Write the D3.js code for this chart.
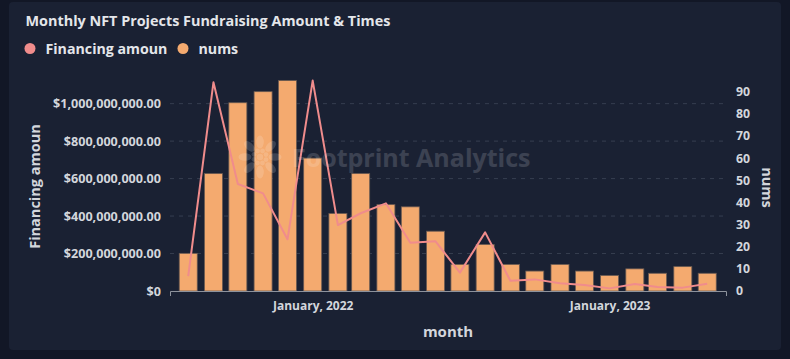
<!DOCTYPE html>
<html>
<head>
<meta charset="utf-8">
<script src="https://cdn.jsdelivr.net/npm/d3@7"></script>
<style>
  html, body { margin: 0; padding: 0; background: #121726; }
  svg { display: block; }
  text { font-family: "Open Sans", "Noto Sans", sans-serif; font-weight: 700; }
</style>
</head>
<body>
<svg id="chart" width="790" height="359"></svg>
<script>
// ---- data ----
const months = ["2021-08","2021-09","2021-10","2021-11","2021-12","2022-01","2022-02","2022-03",
  "2022-04","2022-05","2022-06","2022-07","2022-08","2022-09","2022-10","2022-11","2022-12",
  "2023-01","2023-02","2023-03","2023-04","2023-05"];
const nums = [17,53,85,90,95,60,35,53,39,38,27,12,21,12,9,12,9,7,10,8,11,8];
const financingAmount = [80e6,1114e6,571e6,521e6,276e6,1123e6,352e6,415e6,468e6,258e6,265e6,
  98e6,313e6,55e6,62e6,41e6,32e6,14e6,37e6,21e6,18e6,39e6];
const leftTicks = [0,200e6,400e6,600e6,800e6,1000e6];
const leftTickLabels = ["$0","$200,000,000.00","$400,000,000.00","$600,000,000.00","$800,000,000.00","$1,000,000,000.00"];
const rightTicks = [0,10,20,30,40,50,60,70,80,90];
const xTickDates = ["2022-01","2023-01"];
const xTickLabels = ["January, 2022","January, 2023"];
const seriesNames = ["Financing amoun","nums"];

const parse = d3.timeParse("%Y-%m");
const dates = months.map(parse);

const svg = d3.select("#chart");

// panel
svg.append("rect").attr("x",9).attr("y",2).attr("width",772).attr("height",348)
  .attr("rx",4).attr("fill","#1a2133");

const m = {left:170, right:726, top:80.6, bottom:291};

const x = d3.scaleTime()
  .domain([d3.timeHour.offset(dates[0], -22.4*24), d3.timeHour.offset(dates[dates.length-1], 23.1*24)])
  .range([m.left, m.right]);
const yL = d3.scaleLinear().domain([0, d3.max(financingAmount)]).range([m.bottom, m.top]);
const yR = d3.scaleLinear().domain([0, d3.max(nums)]).range([m.bottom, m.top]);

const barColor = "#f4aa6f", lineColor = "#f08c8c";
const barW = 18;
const tickColor = "#d3d6dc";

// gridlines
svg.append("g").selectAll("line").data(leftTicks.filter(d => d > 0)).join("line")
  .attr("x1", m.left).attr("x2", m.right)
  .attr("y1", d => yL(d)).attr("y2", d => yL(d))
  .attr("stroke", "#363e50").attr("stroke-width", 1).attr("stroke-dasharray", "4,5");

// bars
svg.append("g").selectAll("rect").data(nums).join("rect")
  .attr("x", (d,i) => x(dates[i]) - barW/2)
  .attr("width", barW)
  .attr("y", d => yR(d))
  .attr("height", d => yR(0) - yR(d))
  .attr("fill", barColor)
  .attr("stroke", "#6a5a52").attr("stroke-width", 0.8);

// line
const line = d3.line().x((d,i) => x(dates[i])).y(d => yL(d));
svg.append("path").datum(financingAmount)
  .attr("d", line).attr("fill","none").attr("stroke", lineColor)
  .attr("stroke-width", 2).attr("stroke-linejoin","round");

// x axis
const xAxis = d3.axisBottom(x).tickValues(xTickDates.map(parse))
  .tickFormat((d,i) => xTickLabels[i]).tickSize(0).tickSizeOuter(5).tickPadding(10);
const gx = svg.append("g").attr("transform", `translate(0,${m.bottom})`).call(xAxis);
gx.select(".domain").attr("stroke", "#8d929c");
gx.selectAll("text").attr("fill", tickColor).attr("font-size", 12).attr("font-weight", 700)
  .style("font-family", '"Open Sans", sans-serif');

// left axis
const yAxisL = d3.axisLeft(yL).tickValues(leftTicks).tickFormat((d,i) => leftTickLabels[i])
  .tickSize(0).tickPadding(9);
const gl = svg.append("g").attr("transform", `translate(${m.left},0)`).call(yAxisL);
gl.select(".domain").remove();
gl.selectAll("text").attr("fill", tickColor).attr("font-size", 12.6)
  .style("font-family", '"Open Sans", sans-serif');

// right axis
const yAxisR = d3.axisRight(yR).tickValues(rightTicks).tickSize(0).tickPadding(10);
const gr = svg.append("g").attr("transform", `translate(${m.right},0)`).call(yAxisR);
gr.select(".domain").remove();
gr.selectAll("text").attr("fill", tickColor).attr("font-size", 12.3)
  .style("font-family", '"Open Sans", sans-serif');

// axis titles
svg.append("text").attr("transform", "translate(39.5,186.5) rotate(-90)")
  .attr("text-anchor","middle").attr("fill",tickColor).attr("font-size",14.5).text(seriesNames[0]);
svg.append("text").attr("transform", "translate(762,187.5) rotate(90)")
  .attr("text-anchor","middle").attr("fill",tickColor).attr("font-size",14.5).text(seriesNames[1]);
svg.append("text").attr("x", (m.left+m.right)/2).attr("y", 337)
  .attr("text-anchor","middle").attr("fill",tickColor).attr("font-size",15).text("month");

// title
svg.append("text").attr("x", 25.5).attr("y", 26).attr("fill", "#e4e6ea").attr("font-size", 14.4)
  .text("Monthly NFT Projects Fundraising Amount & Times");

// legend
const legend = [{name: seriesNames[0], color: lineColor, x: 30}, {name: seriesNames[1], color: barColor, x: 183}];
const lg = svg.append("g").selectAll("g").data(legend).join("g");
lg.append("circle").attr("cx", d => d.x).attr("cy", 48.5).attr("r", 5.5).attr("fill", d => d.color);
lg.append("text").attr("x", d => d.x + 15.5).attr("y", 54).attr("fill", "#e4e6ea")
  .attr("font-size", 14.2).text(d => d.name);

// watermark
const wm = svg.append("g").attr("opacity", 0.15).attr("fill", "#ffffff");
wm.append("text").attr("x", 292).attr("y", 167).attr("font-size", 25).text("Footprint Analytics");
const logo = wm.append("g").attr("transform", "translate(260,157)");
d3.range(8).forEach(k => {
  const a = k * Math.PI / 4;
  logo.append("ellipse").attr("cx", Math.cos(a)*15).attr("cy", Math.sin(a)*15)
    .attr("rx", 6.5).attr("ry", 3.8).attr("transform", `rotate(${a*180/Math.PI} ${Math.cos(a)*15} ${Math.sin(a)*15})`);
  logo.append("circle").attr("cx", Math.cos(a+0.4)*6.5).attr("cy", Math.sin(a+0.4)*6.5).attr("r", 2.4);
});
logo.append("circle").attr("r", 3.2);
</script>
</body>
</html>
